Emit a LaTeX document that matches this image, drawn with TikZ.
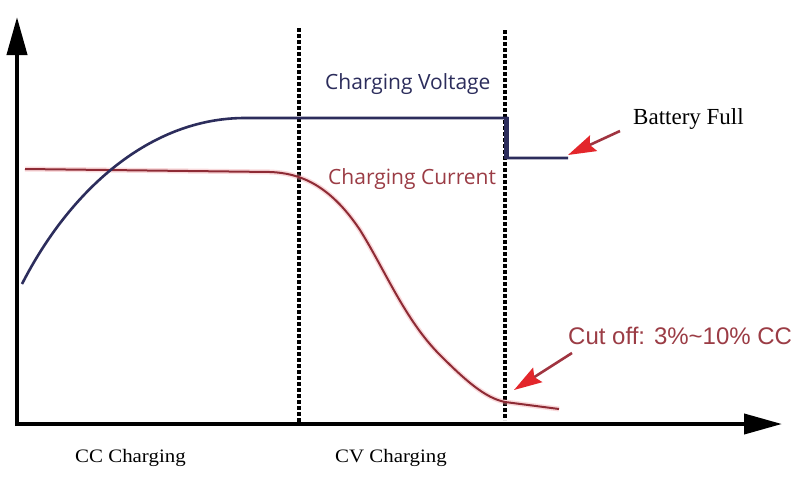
\documentclass[tikz,border=0pt]{standalone}
\usepackage{fontspec}
\usetikzlibrary{arrows.meta}
\newfontfamily\opensans{Open Sans}
\newfontfamily\arialf{Liberation Sans}
\newfontfamily\timesf{Liberation Serif}
\definecolor{navy}{HTML}{2C2D5C}
\definecolor{curr}{HTML}{8E2B35}
\definecolor{currtxt}{HTML}{9B3C45}
\definecolor{glow}{HTML}{F2A0A6}
\definecolor{arrred}{HTML}{E3262B}
\definecolor{shaft}{HTML}{A03440}
\tikzset{
  axis/.style={line width=4pt,-{Triangle[length=38pt,width=20pt]}},
  phase/.style={line width=3.4pt,dash pattern=on 4pt off 2pt},
  vcurve/.style={navy,line width=2.6pt},
  ccurve/.style={curr,line width=2pt},
  cglow/.style={glow,line width=5pt,opacity=0.4},
  callout/.style={shaft,line width=2.6pt,-{Stealth[length=28pt,width=17pt,inset=4pt,color=arrred]}},
  lbl/.style={inner sep=0pt,anchor=base west},
}
\begin{document}
\begin{tikzpicture}[x=1pt,y=-1pt]
\useasboundingbox (0,0) rectangle (804,485);
\fill[white] (0,0) rectangle (804,485);
% axes
\coordinate (O) at (17,424);
\coordinate (ytop) at (17,17);
\coordinate (xend) at (782,424);
\draw[axis] (17,426) -- (ytop);
\draw[axis] (15,424) -- (xend);
% phase lines
\coordinate (p1t) at (299,28); \coordinate (p1b) at (299,422);
\coordinate (p2t) at (505,30); \coordinate (p2b) at (505,420);
\draw[phase] (p1t) -- (p1b);
\draw[phase] (p2t) -- (p2b);
% current curve
\coordinate (c0) at (25,169);
\coordinate (c1) at (270,172);
\coordinate (c2) at (360,230);
\coordinate (c3) at (440,355);
\coordinate (c4) at (505,402);
\coordinate (c5) at (559,409);
\foreach \s in {cglow,ccurve}{
\draw[\s] (c0) -- (c1) .. controls (300,173) and (330,185) .. (c2)
  .. controls (385,270) and (405,320) .. (c3)
  .. controls (465,380) and (485,398) .. (c4) -- (c5);
}
% voltage curve
\coordinate (v0) at (22,284);
\coordinate (v1) at (245,118);
\coordinate (v2) at (507,118);
\coordinate (v3) at (507,158);
\coordinate (v4) at (568,158);
\draw[vcurve] (v0) .. controls (70,190) and (150,118) .. (v1) -- (v2) -- (v3) -- (v4);
\draw[navy,line width=4.5pt] (506.5,117) -- (506.5,159);
% labels
\node[lbl,text=navy,font=\opensans\fontsize{21}{25}\selectfont] (lv) at (325,89) {Charging Voltage};
\node[lbl,text=currtxt,font=\opensans\fontsize{21}{25}\selectfont] (lc) at (328,184) {Charging Current};
\node[lbl,font=\timesf\fontsize{23}{27}\selectfont] (bf) at (633,124) {Battery Full};
\node[lbl,text=currtxt,font=\arialf\fontsize{24}{28}\selectfont] (co) at (568,344) {Cut off: 3\%\char"7E 10\% CC};
\node[lbl,font=\timesf\fontsize{19}{23}\selectfont,xscale=1.1,transform shape] (cc) at (75,462) {CC Charging};
\node[lbl,font=\timesf\fontsize{19}{23}\selectfont,xscale=1.1,transform shape] (cv) at (335,462) {CV Charging};
% callouts
\coordinate (bft) at (620,131);
\coordinate (cot) at (572,353);
\draw[callout] (bft) -- (568,155);
\draw[callout] (cot) -- (514,390);
\end{tikzpicture}
\end{document}
